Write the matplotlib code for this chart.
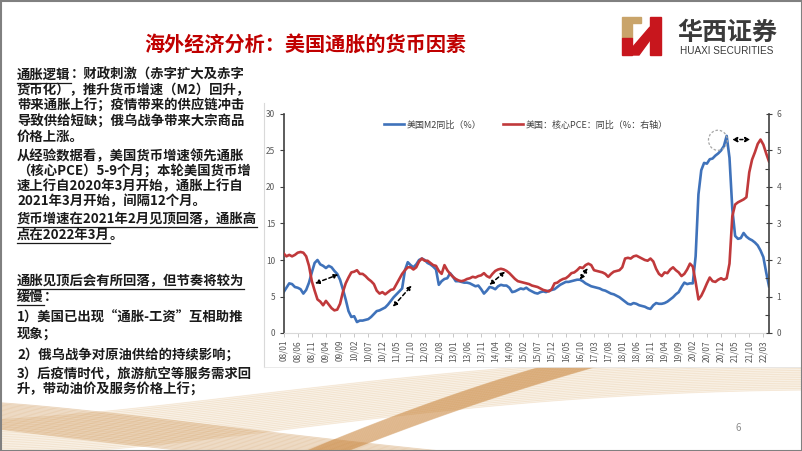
import numpy as np
import pandas as pd
import matplotlib
matplotlib.use('Agg')
import matplotlib.pyplot as plt
from matplotlib.patches import Ellipse, Rectangle, Polygon

plt.rcParams['font.family'] = ['Noto Sans CJK SC', 'DejaVu Sans']

# monthly data 2008/01 - 2022/05
months = pd.date_range('2008-01-01', '2022-05-01', freq='MS')

# US M2 yoy (%), left axis
m2_yoy = [
    5.6, 6.2, 6.8, 6.7, 6.3, 6.2, 6.0, 5.4, 5.9, 6.9, 8.3, 9.6,        # 2008
    10.0, 9.4, 9.2, 8.9, 9.2, 9.0, 8.5, 8.1, 7.3, 6.0, 4.6, 3.0,       # 2009
    2.2, 2.3, 1.5, 1.7, 1.7, 1.8, 1.9, 2.2, 2.6, 3.0, 3.1, 3.3,        # 2010
    3.5, 3.9, 4.4, 4.9, 5.3, 5.7, 6.1, 8.6, 9.7, 9.3, 9.0, 9.4,        # 2011
    10.0, 10.2, 10.0, 9.6, 9.4, 9.1, 8.7, 6.6, 7.1, 7.4, 7.5, 8.2,     # 2012
    7.7, 7.1, 7.1, 7.0, 6.9, 6.9, 6.8, 6.6, 6.4, 6.5, 6.0, 5.4,        # 2013
    5.8, 6.3, 6.2, 6.0, 6.4, 6.6, 6.5, 6.5, 6.2, 5.6, 5.7, 5.9,        # 2014
    6.1, 6.0, 6.2, 5.9, 5.7, 5.5, 5.4, 5.6, 5.7, 5.6, 5.8, 5.9,        # 2015
    6.0, 6.3, 6.6, 6.8, 7.0, 7.0, 7.1, 7.2, 7.3, 7.3, 7.1, 6.8,        # 2016
    6.6, 6.4, 6.3, 6.2, 6.1, 5.9, 5.8, 5.6, 5.4, 5.3, 5.1, 4.9,        # 2017
    4.6, 4.3, 4.0, 3.9, 4.1, 4.0, 3.8, 3.7, 3.6, 3.4, 3.3, 3.8,        # 2018
    4.1, 4.0, 4.0, 4.1, 4.3, 4.6, 4.9, 5.3, 5.6, 6.3, 6.9, 6.7,        # 2019
    6.8, 6.8, 10.5, 19.0, 22.3, 23.3, 23.2, 23.8, 23.9, 24.3, 24.6, 25.0,  # 2020
    25.6, 27.0, 24.0, 17.0, 13.3, 12.9, 13.0, 13.7, 13.2, 12.9, 12.7, 12.4,  # 2021
    12.0, 11.3, 10.4, 8.3, 6.4,                                        # 2022
]

# US core PCE yoy (%), right axis
pce_yoy = [
    2.18, 2.10, 2.14, 2.10, 2.14, 2.20, 2.22, 2.20, 2.10, 1.84, 1.42, 1.16,  # 2008
    0.92, 0.86, 0.76, 0.88, 0.78, 0.68, 0.62, 0.64, 0.80, 1.12, 1.36, 1.52,  # 2009
    1.66, 1.68, 1.72, 1.62, 1.62, 1.56, 1.48, 1.42, 1.34, 1.16, 1.08, 1.12,  # 2010
    1.06, 1.12, 1.18, 1.20, 1.34, 1.48, 1.62, 1.72, 1.80, 1.80, 1.74, 1.80,  # 2011
    1.96, 2.04, 1.98, 1.98, 1.92, 1.86, 1.84, 1.70, 1.62, 1.86, 1.72, 1.62,  # 2012
    1.54, 1.48, 1.44, 1.42, 1.44, 1.48, 1.50, 1.54, 1.52, 1.56, 1.58, 1.64,  # 2013
    1.56, 1.52, 1.62, 1.70, 1.74, 1.76, 1.74, 1.70, 1.64, 1.56, 1.48, 1.42,  # 2014
    1.40, 1.38, 1.36, 1.34, 1.30, 1.28, 1.26, 1.22, 1.18, 1.16, 1.14, 1.20,  # 2015
    1.36, 1.38, 1.44, 1.48, 1.50, 1.56, 1.64, 1.66, 1.72, 1.80, 1.78, 1.86,  # 2016
    1.90, 1.86, 1.72, 1.70, 1.68, 1.66, 1.62, 1.54, 1.62, 1.68, 1.70, 1.72,  # 2017
    1.80, 2.04, 2.06, 2.04, 2.10, 2.12, 2.08, 2.04, 2.00, 1.98, 2.04, 1.96,  # 2018
    1.76, 1.62, 1.56, 1.66, 1.64, 1.74, 1.80, 1.72, 1.66, 1.56, 1.62, 1.74,  # 2019
    1.90, 1.82, 1.40, 0.92, 1.02, 1.18, 1.36, 1.52, 1.42, 1.40, 1.46, 1.50,  # 2020
    1.46, 1.50, 1.90, 3.20, 3.52, 3.58, 3.62, 3.66, 3.72, 4.40, 4.75, 4.95,  # 2021
    5.18, 5.30, 5.16, 4.92, 4.70,                                            # 2022
]

tick_labels = [d.strftime('%y/%m') for d in months[::5]]

blue = '#3F72BA'
red = '#C0393B'
grey_txt = '#595959'

fig = plt.figure(figsize=(8.02, 4.51), dpi=100)

# slide background layer, pixel coords
bg = fig.add_axes([0, 0, 1, 1])
bg.set_xlim(0, 802)
bg.set_ylim(451, 0)
bg.axis('off')


def bez(p0, p1, p2, p3, n=80):
    t = np.linspace(0, 1, n)[:, None]
    p0, p1, p2, p3 = map(np.array, (p0, p1, p2, p3))
    return (1-t)**3*p0 + 3*(1-t)**2*t*p1 + 3*(1-t)*t**2*p2 + t**3*p3


def ribbon(upper, lower, color, alpha, nlines=22):
    for k in np.linspace(0, 1, nlines):
        c = upper*(1-k) + lower*k
        bg.plot(c[:, 0], c[:, 1], color=color, alpha=alpha, lw=0.6)
    poly = np.vstack([upper, lower[::-1]])
    bg.add_patch(Polygon(poly, closed=True, color=color, alpha=alpha*0.7, lw=0))


# decorative golden ribbons at the bottom
ribbon(bez((-10, 420), (200, 410), (420, 360), (820, 352)),
       bez((-10, 456), (220, 452), (430, 392), (820, 390)), '#D9A45F', 0.20)
ribbon(bez((-10, 402), (120, 410), (300, 440), (560, 462)),
       bez((-10, 428), (100, 442), (220, 456), (350, 466)), '#C98B45', 0.28)
ribbon(bez((280, 462), (380, 420), (470, 385), (600, 350)),
       bez((320, 462), (410, 426), (500, 393), (620, 360)), '#C57A2A', 0.36)

# white chart area covering the ribbons
bg.add_patch(Rectangle((264, 103), 545, 264, facecolor='white', edgecolor='none', zorder=3))
bg.plot([264, 264], [103, 367], color='#D9D9D9', lw=0.8, zorder=4)
bg.plot([264, 802], [367, 367], color='#E6E6E6', lw=0.6, zorder=4)

# slide border
bg.add_patch(Rectangle((0.5, 0.5), 801, 450, fill=False, edgecolor='#808080', lw=1.5, zorder=5))

# title
bg.text(305, 44, '海外经济分析：美国通胀的货币因素', color='#C00000', fontsize=14.5,
        fontweight='bold', ha='center', va='center', zorder=5)

# logo
bg.add_patch(Polygon([(622, 17), (641, 17), (641, 23), (632, 23), (632, 38), (622, 38)],
                     closed=True, color='#C9A46A', zorder=5))
bg.add_patch(Polygon([(622, 38), (632, 38), (632, 55), (622, 55)], closed=True, color='#C8161D', zorder=5))
bg.add_patch(Polygon([(632, 48), (650, 27), (650, 40), (639, 55), (632, 55)], closed=True,
                     color='#C8161D', zorder=5))
bg.add_patch(Rectangle((650, 17), 11, 38, color='#C8161D', zorder=5))
bg.text(727, 33, '华西证券', fontsize=18, fontweight='bold', color='#3A3A3A',
        ha='center', va='center', zorder=5)
bg.text(727, 51, 'HUAXI SECURITIES', fontsize=7.2, color='#3A3A3A', ha='center', va='center',
        family='Liberation Sans', zorder=5)

# page number
bg.text(738, 428, '6', fontsize=7, color='#8C8C8C', ha='center', va='center', zorder=5)

# left text block: (underlined part, rest, y)
text_lines = [
    ('通胀逻辑', '：财政刺激（赤字扩大及赤字', 75),
    ('', '货币化），推升货币增速（M2）回升，', 90.5),
    ('', '带来通胀上行；疫情带来的供应链冲击', 106),
    ('', '导致供给短缺；俄乌战争带来大宗商品', 121.5),
    ('', '价格上涨。', 137),
    ('', '从经验数据看，美国货币增速领先通胀', 156),
    ('', '（核心PCE）5-9个月；本轮美国货币增', 171),
    ('', '速上行自2020年3月开始，通胀上行自', 186),
    ('', '2021年3月开始，间隔12个月。', 201),
    ('货币增速在2021年2月见顶回落，通胀高', '', 219),
    ('点在2022年3月', '。', 235),
    ('通胀见顶后会有所回落，但节奏将较为', '', 281),
    ('缓慢', '：', 297),
    ('', '1）美国已出现“通胀-工资”互相助推', 318),
    ('', '现象；', 334),
    ('', '2）俄乌战争对原油供给的持续影响；', 355),
    ('', '3）后疫情时代，旅游航空等服务需求回', 374),
    ('', '升，带动油价及服务价格上行；', 390),
]
renderer = fig.canvas.get_renderer()
inv = bg.transData.inverted()
tkw = dict(fontsize=9.6, fontweight='bold', color='#1A1A1A', va='center', zorder=5)
for ul, rest, y in text_lines:
    x = 17
    if ul:
        t = bg.text(x, y, ul, **tkw)
        bb = t.get_window_extent(renderer)
        x0 = inv.transform((bb.x0, bb.y0))[0]
        x1 = inv.transform((bb.x1, bb.y0))[0]
        bg.plot([x0, x1], [y + 8, y + 8], color='#1A1A1A', lw=0.9, zorder=5)
        x = x1
    if rest:
        bg.text(x, y, rest, **tkw)

# chart
x = np.arange(len(months))
ax = fig.add_axes([283.6/802, 118/451, (769-283.6)/802, 219/451], zorder=6)
ax.patch.set_alpha(0)
ax2 = ax.twinx()

l1, = ax.plot(x, m2_yoy, color=blue, lw=1.9, label='美国M2同比（%）')
l2, = ax2.plot(x, pce_yoy, color=red, lw=1.9, label='美国：核心PCE：同比（%：右轴）')

ax.set_xlim(0, len(months) - 1)
ax.set_ylim(0, 30)
ax2.set_ylim(0, 6)
ax.set_yticks(range(0, 31, 5))
ax2.set_yticks(range(0, 7))
ax2.set_yticks(np.arange(0.5, 6, 1), minor=True)
ax.set_xticks(x[::5])
ax.set_xticklabels(tick_labels, rotation=90)

for s in ['top', 'right']:
    ax.spines[s].set_visible(False)
for s in ['top', 'left', 'bottom']:
    ax2.spines[s].set_visible(False)
ax.spines['left'].set_color('#404040')
ax.spines['left'].set_linewidth(1.2)
ax.spines['bottom'].set_color('#D9D9D9')
ax.spines['bottom'].set_linewidth(0.8)
ax2.spines['right'].set_color('#404040')
ax2.spines['right'].set_linewidth(1.2)

ax.tick_params(axis='y', direction='out', length=3, width=0.8, color='#404040',
               labelsize=6, labelcolor=grey_txt, pad=3)
ax.tick_params(axis='x', direction='out', length=3, width=0.6, color='#BFBFBF',
               labelsize=6, labelcolor=grey_txt, pad=2)
ax2.tick_params(axis='y', which='major', direction='inout', length=5, width=0.8, color='#404040',
                labelsize=6, labelcolor=grey_txt, pad=3)
ax2.tick_params(axis='y', which='minor', direction='in', length=3, width=0.8, color='#404040')

leg = ax.legend(handles=[l1, l2], loc='upper center', bbox_to_anchor=(0.5, 1.0), ncol=2,
                frameon=False, fontsize=6.5, handlelength=2.2, handletextpad=0.3,
                columnspacing=2.4, borderaxespad=0.3)
for t in leg.get_texts():
    t.set_color('#404040')

# annotations (left-axis units, drawn on right axis so they sit above both lines)
arrows = [((11.1, 6.8), (19.4, 8.0)),
          ((38.7, 3.6), (45.4, 6.5)),
          ((72.9, 6.6), (78.5, 8.4)),
          ((104.9, 7.3), (107.8, 8.9))]
for (xa, ya), (xb, yb) in arrows:
    ax2.annotate('', xy=(xb, yb/5), xytext=(xa, ya/5),
                 arrowprops=dict(arrowstyle='<|-|>', color='black', lw=1.1, ls=(0, (2.5, 1.8)),
                                 mutation_scale=6, shrinkA=0, shrinkB=0))
ax2.annotate('', xy=(165.4, 26.5/5), xytext=(158.9, 26.5/5),
             arrowprops=dict(arrowstyle='<|-|>', color='black', lw=1.1, ls=(0, (2, 2)),
                             mutation_scale=7, shrinkA=0, shrinkB=0))
ax2.add_patch(Ellipse((153.9, 26.4/5), 6.7, 2.75/5, fill=False, edgecolor='#A6A6A6',
                      lw=0.9, ls=(0, (2, 1.5))))

fig.savefig('out.png', dpi=100)
